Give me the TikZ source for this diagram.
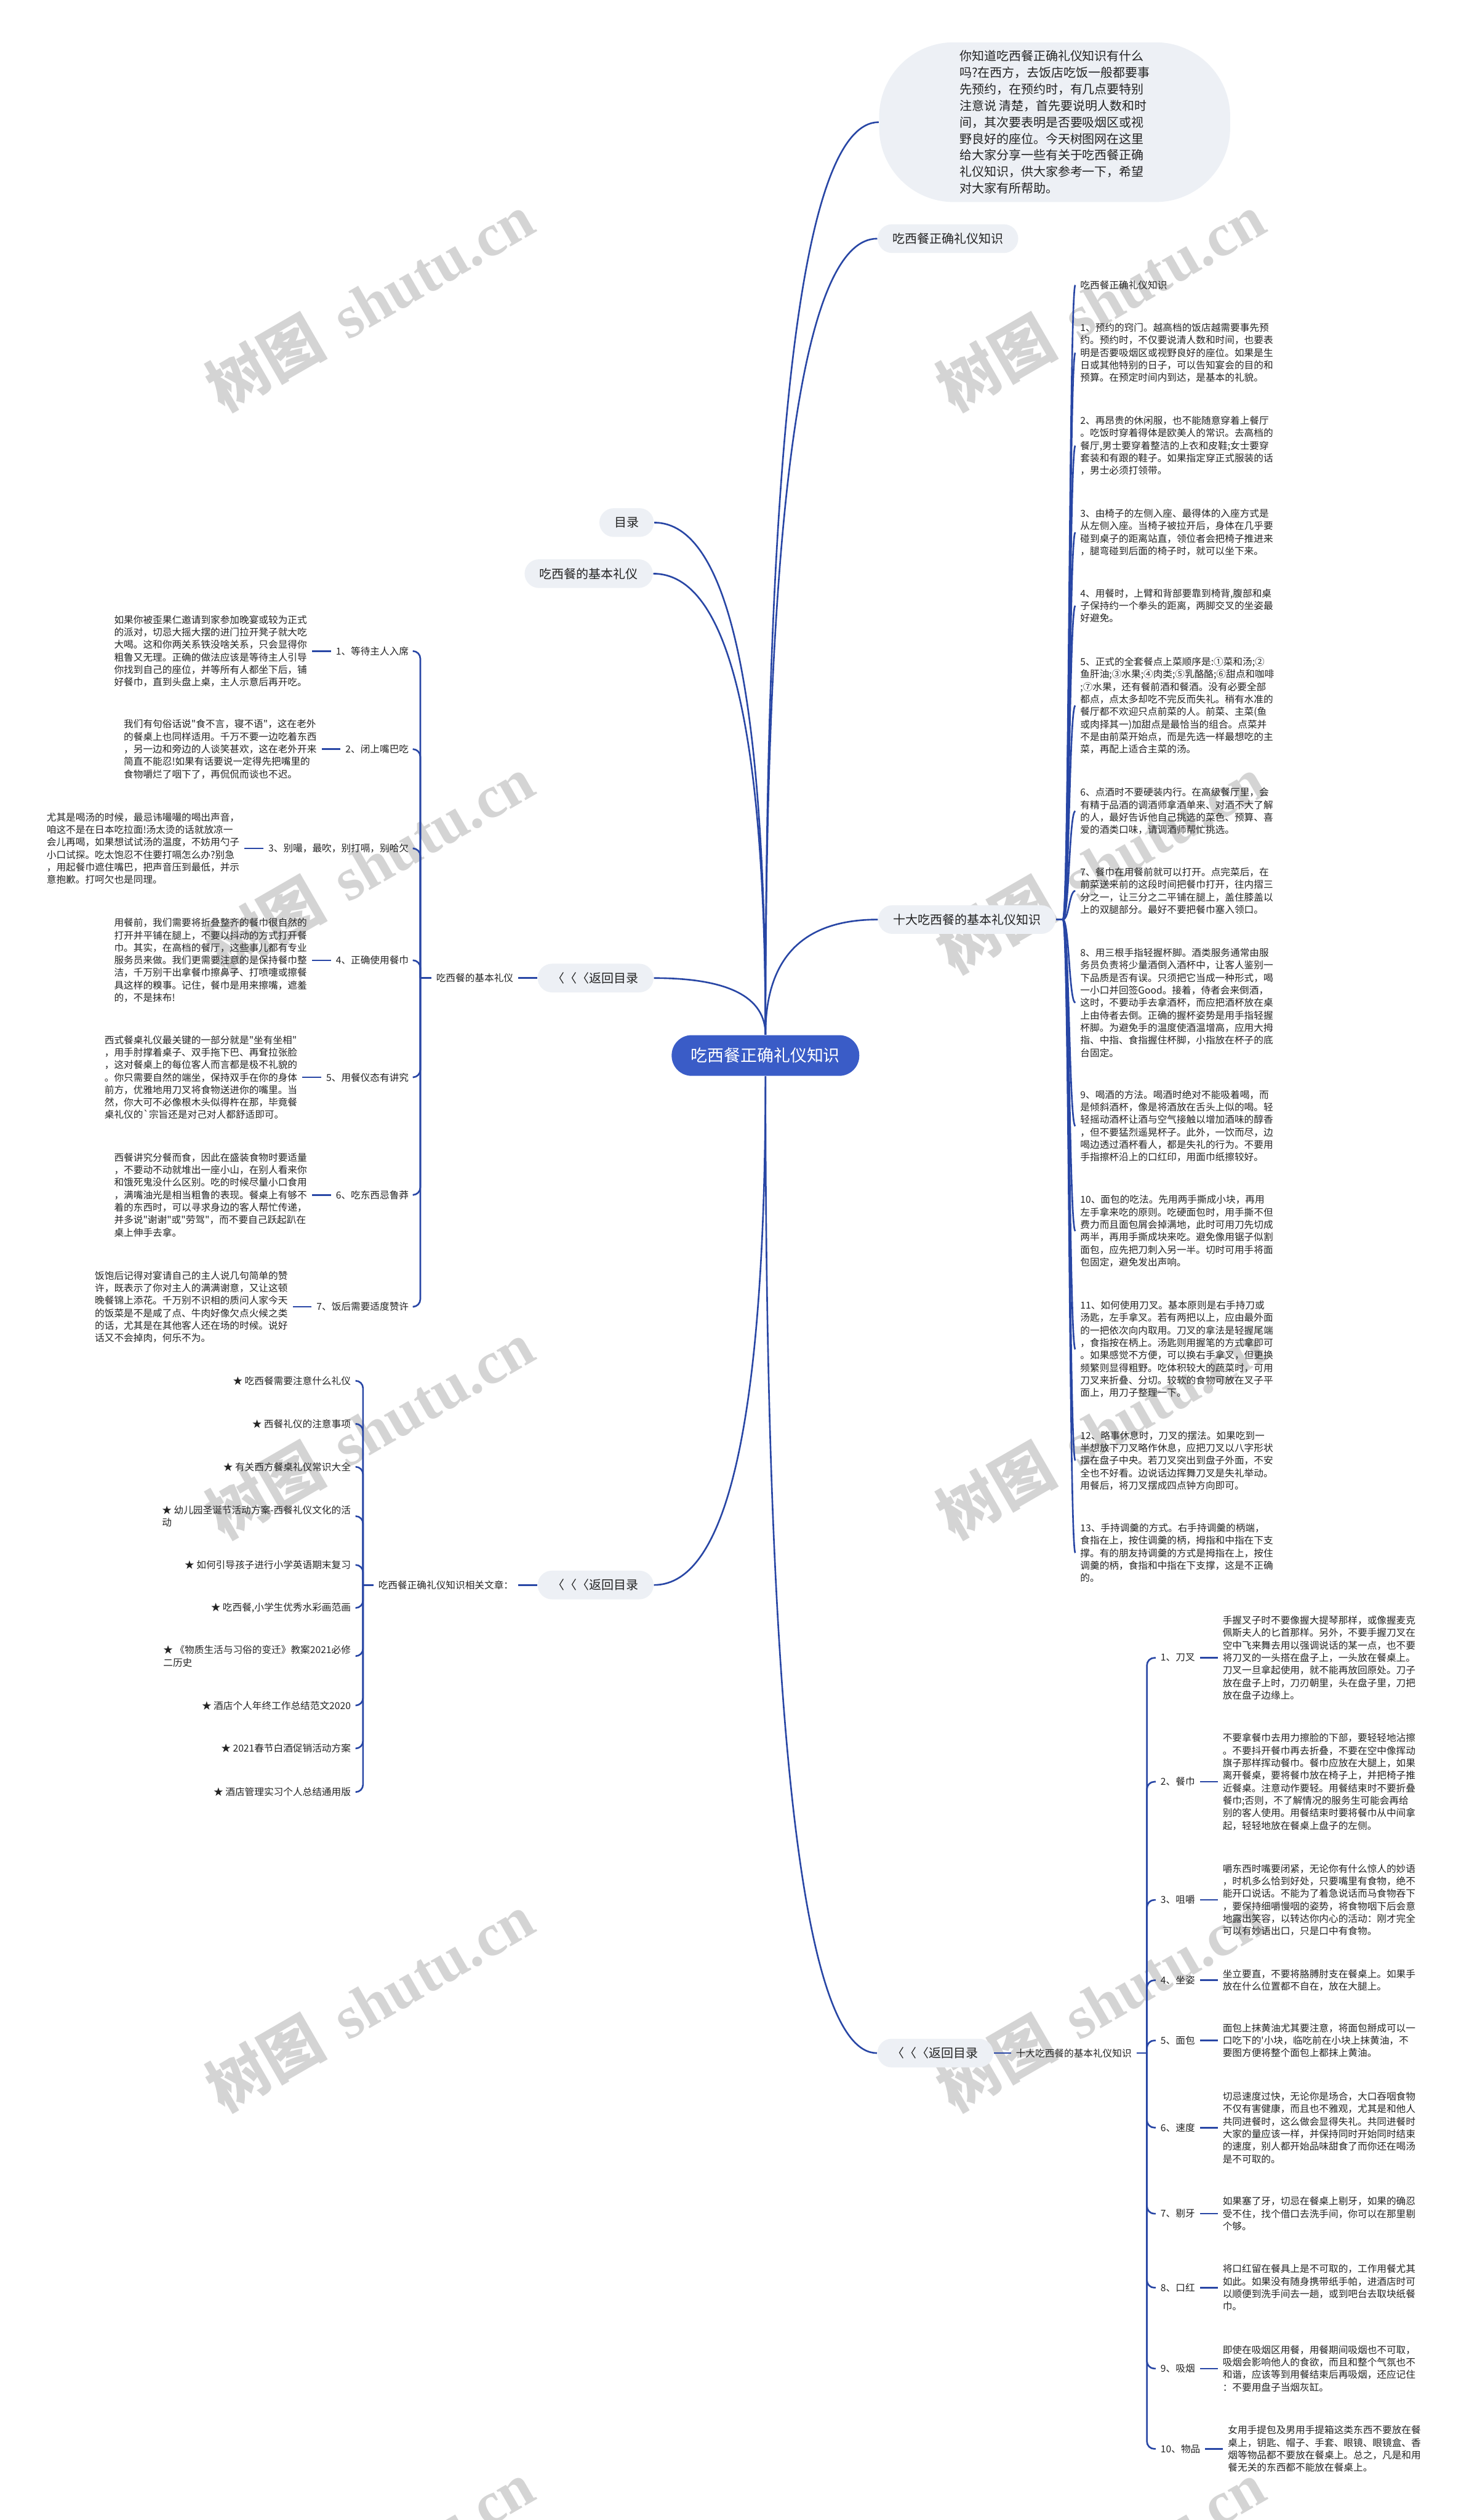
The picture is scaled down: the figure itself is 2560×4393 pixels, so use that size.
\documentclass[tikz,border=0pt]{standalone}
\usepackage{fontspec}
\usetikzlibrary{positioning,calc}
\newfontfamily\zh{Noto Sans CJK SC}
\newfontfamily\wmlatin{Liberation Serif}
\newcommand\ftRoot{\zh\fontsize{8.2pt}{10pt}\selectfont}
\newcommand\ftBig{\zh\fontsize{6.1pt}{8.2pt}\selectfont}
\newcommand\ftSmall{\zh\fontsize{4.78pt}{6.2pt}\selectfont}
\definecolor{linecol}{RGB}{40,70,165}
\definecolor{rootcol}{RGB}{58,92,199}
\definecolor{pillcol}{RGB}{237,240,245}
\definecolor{txtcol}{RGB}{35,35,35}
\definecolor{wmcol}{RGB}{212,212,212}
\begin{document}
\begin{tikzpicture}[x=0.1mm,y=-0.1mm,
  link/.style={draw=linecol,line width=0.8pt},
  quad/.style={link,to path={.. controls ($(\tikztostart)!.667!(\tikztostart |- \tikztotarget)$) and ($(\tikztotarget)!.667!(\tikztostart |- \tikztotarget)$) .. (\tikztotarget)}},
  fan/.style={link,to path={.. controls ($(\tikztostart)!.5!(\tikztostart -| \tikztotarget)$) and ($(\tikztotarget)!.5!(\tikztotarget -| \tikztostart)$) .. (\tikztotarget)}},
  brace/.style={link,rounded corners=1.3mm},
  root/.style={fill=rootcol,text=white,rounded corners=3.5mm,minimum width=32.7mm,minimum height=7.1mm,font=\ftRoot},
  pill/.style={fill=pillcol,text=txtcol,rounded corners=2.5mm,minimum height=5mm,inner xsep=2.6mm,inner ysep=0pt,font=\ftBig},
  txt/.style={text=txtcol,align=left,inner xsep=0.8mm,inner ysep=0.5mm,font=\ftSmall},
  wmark/.style={text=wmcol,rotate=30,font=\fontsize{30pt}{30pt}\selectfont\bfseries}
]
\fill[white] (0,0) rectangle (2560,4393);
\useasboundingbox (0,0) rectangle (2560,4393);

\foreach \wy in {526,1506,2492,3490,4480}
  \foreach \wx in {644,1918}
    \node[wmark] (wm-\wx-\wy) at (\wx,\wy) {{\zh 树图} {\wmlatin shutu.cn}};

\node[root] (root) at (1334,1840) {吃西餐正确礼仪知识};
\node[pill,rounded corners=13mm,inner xsep=14mm,inner ysep=1.4mm,align=left] (intro) at (1838,213) {你知道吃西餐正确礼仪知识有什么\\吗?在西方，去饭店吃饭一般都要事\\先预约，在预约时，有几点要特别\\注意说 清楚，首先要说明人数和时\\间，其次要表明是否要吸烟区或视\\野良好的座位。今天树图网在这里\\给大家分享一些有关于吃西餐正确\\礼仪知识，供大家参考一下，希望\\对大家有所帮助。};
\node[pill] (knowA) at (1652,416) {吃西餐正确礼仪知识};
\node[pill] (shida) at (1685,1603) {十大吃西餐的基本礼仪知识};
\node[pill] (mulu) at (1092,911) {目录};
\node[pill] (basic) at (1026,1000) {吃西餐的基本礼仪};
\node[pill] (backA) at (1038,1705) {〈〈〈返回目录};
\node[pill] (backB) at (1038,2763) {〈〈〈返回目录};
\node[pill] (backC) at (1630,3579) {〈〈〈返回目录};

\foreach \n in {intro,knowA,shida} \draw[quad] (root.north) to (\n.west);
\foreach \n in {mulu,basic,backA} \draw[quad] (root.north) to (\n.east);
\draw[quad] (root.south) to (backB.east);
\draw[quad] (root.south) to (backC.west);

\coordinate (hubT) at ([xshift=1.2mm]shida.east);
\draw[link] (shida.east) -- (hubT);
\node[txt,anchor=west] (k0) at (1874,497) {吃西餐正确礼仪知识};
\node[txt,anchor=west] (k1) at (1874,615) {1、预约的窍门。越高档的饭店越需要事先预\\约。预约时，不仅要说清人数和时间，也要表\\明是否要吸烟区或视野良好的座位。如果是生\\日或其他特别的日子，可以告知宴会的目的和\\预算。在预定时间内到达，是基本的礼貌。};
\node[txt,anchor=west] (k2) at (1874,777) {2、再昂贵的休闲服，也不能随意穿着上餐厅\\。吃饭时穿着得体是欧美人的常识。去高档的\\餐厅,男士要穿着整洁的上衣和皮鞋;女士要穿\\套装和有跟的鞋子。如果指定穿正式服装的话\\，男士必须打领带。};
\node[txt,anchor=west] (k3) at (1874,928) {3、由椅子的左侧入座、最得体的入座方式是\\从左侧入座。当椅子被拉开后，身体在几乎要\\碰到桌子的距离站直，领位者会把椅子推进来\\，腿弯碰到后面的椅子时，就可以坐下来。};
\node[txt,anchor=west] (k4) at (1874,1056) {4、用餐时，上臂和背部要靠到椅背,腹部和桌\\子保持约一个拳头的距离，两脚交叉的坐姿最\\好避免。};
\node[txt,anchor=west] (k5) at (1874,1230) {5、正式的全套餐点上菜顺序是:①菜和汤;②\\鱼肝油;③水果;④肉类;⑤乳酪酪;⑥甜点和咖啡\\;⑦水果，还有餐前酒和餐酒。没有必要全部\\都点，点太多却吃不完反而失礼。稍有水准的\\餐厅都不欢迎只点前菜的人。前菜、主菜(鱼\\或肉择其一)加甜点是最恰当的组合。点菜并\\不是由前菜开始点，而是先选一样最想吃的主\\菜，再配上适合主菜的汤。};
\node[txt,anchor=west] (k6) at (1874,1414) {6、点酒时不要硬装内行。在高级餐厅里，会\\有精于品酒的调酒师拿酒单来、对酒不大了解\\的人，最好告诉他自己挑选的菜色、预算、喜\\爱的酒类口味，请调酒师帮忙挑选。};
\node[txt,anchor=west] (k7) at (1874,1553) {7、餐巾在用餐前就可以打开。点完菜后，在\\前菜送来前的这段时间把餐巾打开，往内摺三\\分之一，让三分之二平铺在腿上，盖住膝盖以\\上的双腿部分。最好不要把餐巾塞入领口。};
\node[txt,anchor=west] (k8) at (1874,1748) {8、用三根手指轻握杯脚。酒类服务通常由服\\务员负责将少量酒倒入酒杯中，让客人鉴别一\\下品质是否有误。只须把它当成一种形式，喝\\一小口并回签Good。接着，侍者会来倒酒，\\这时，不要动手去拿酒杯，而应把酒杯放在桌\\上由侍者去倒。正确的握杯姿势是用手指轻握\\杯脚。为避免手的温度使酒温增高，应用大拇\\指、中指、食指握住杯脚，小指放在杯子的底\\台固定。};
\node[txt,anchor=west] (k9) at (1874,1963) {9、喝酒的方法。喝酒时绝对不能吸着喝，而\\是倾斜酒杯，像是将酒放在舌头上似的喝。轻\\轻摇动酒杯让酒与空气接触以增加酒味的醇香\\，但不要猛烈遥晃杯子。此外，一饮而尽，边\\喝边透过酒杯看人，都是失礼的行为。不要用\\手指擦杯沿上的口红印，用面巾纸擦较好。};
\node[txt,anchor=west] (k10) at (1874,2146) {10、面包的吃法。先用两手撕成小块，再用\\左手拿来吃的原则。吃硬面包时，用手撕不但\\费力而且面包屑会掉满地，此时可用刀先切成\\两半，再用手撕成块来吃。避免像用锯子似割\\面包，应先把刀刺入另一半。切时可用手将面\\包固定，避免发出声响。};
\node[txt,anchor=west] (k11) at (1874,2352) {11、如何使用刀叉。基本原则是右手持刀或\\汤匙，左手拿叉。若有两把以上，应由最外面\\的一把依次向内取用。刀叉的拿法是轻握尾端\\，食指按在柄上。汤匙则用握笔的方式拿即可\\。如果感觉不方便，可以换右手拿叉，但更换\\频繁则显得粗野。吃体积较大的蔬菜时，可用\\刀叉来折叠、分切。较软的食物可放在叉子平\\面上，用刀子整理一下。};
\node[txt,anchor=west] (k12) at (1874,2546) {12、略事休息时，刀叉的摆法。如果吃到一\\半想放下刀叉略作休息，应把刀叉以八字形状\\摆在盘子中央。若刀叉突出到盘子外面，不安\\全也不好看。边说话边挥舞刀叉是失礼举动。\\用餐后，将刀叉摆成四点钟方向即可。};
\node[txt,anchor=west] (k13) at (1874,2707) {13、手持调羹的方式。右手持调羹的柄端，\\食指在上，按住调羹的柄，拇指和中指在下支\\撑。有的朋友持调羹的方式是拇指在上，按住\\调羹的柄，食指和中指在下支撑，这是不正确\\的。};
\foreach \i in {0,...,13} \draw[fan] (hubT) to (k\i.west);

\node[txt,left=3.3mm of backA] (basicT) {吃西餐的基本礼仪};
\draw[link] (backA.west) -- (basicT.east);
\coordinate (hubL) at ([xshift=-1.9mm]basicT.west);
\draw[link] (basicT.west) -- (hubL);
\node[txt,anchor=east] (L1) at (721,1135) {1、等待主人入席};
\node[txt,anchor=east] (L2) at (721,1306) {2、闭上嘴巴吃};
\node[txt,anchor=east] (L3) at (721,1479) {3、别嘬，最吹，别打嗝，别哈欠};
\node[txt,anchor=east] (L4) at (721,1674) {4、正确使用餐巾};
\node[txt,anchor=east] (L5) at (721,1878) {5、用餐仪态有讲究};
\node[txt,anchor=east] (L6) at (721,2083) {6、吃东西忌鲁莽};
\node[txt,anchor=east] (L7) at (721,2278) {7、饭后需要适度赞许};
\node[txt,left=3.3mm of L1] (LT1) {如果你被歪果仁邀请到家参加晚宴或较为正式\\的派对，切忌大摇大摆的进门拉开凳子就大吃\\大喝。这和你两关系铁没啥关系，只会显得你\\粗鲁又无理。正确的做法应该是等待主人引导\\你找到自己的座位，并等所有人都坐下后，铺\\好餐巾，直到头盘上桌，主人示意后再开吃。};
\node[txt,left=3.3mm of L2] (LT2) {我们有句俗话说"食不言，寝不语"，这在老外\\的餐桌上也同样适用。千万不要一边吃着东西\\，另一边和旁边的人谈笑甚欢，这在老外开来\\简直不能忍!如果有话要说一定得先把嘴里的\\食物嚼烂了咽下了，再侃侃而谈也不迟。};
\node[txt,left=3.3mm of L3] (LT3) {尤其是喝汤的时候，最忌讳嘬嘬的喝出声音，\\咱这不是在日本吃拉面!汤太烫的话就放凉一\\会儿再喝，如果想试试汤的温度，不妨用勺子\\小口试探。吃太饱忍不住要打嗝怎么办?别急\\，用起餐巾遮住嘴巴，把声音压到最低，并示\\意抱歉。打呵欠也是同理。};
\node[txt,left=3.3mm of L4] (LT4) {用餐前，我们需要将折叠整齐的餐巾很自然的\\打开并平铺在腿上，不要以抖动的方式打开餐\\巾。其实，在高档的餐厅，这些事儿都有专业\\服务员来做。我们更需要注意的是保持餐巾整\\洁，千万别干出拿餐巾擦鼻子、打喷嚏或擦餐\\具这样的糗事。记住，餐巾是用来擦嘴，遮羞\\的，不是抹布!};
\node[txt,left=3.3mm of L5] (LT5) {西式餐桌礼仪最关键的一部分就是"坐有坐相"\\，用手肘撑着桌子、双手拖下巴、再耷拉张脸\\，这对餐桌上的每位客人而言都是极不礼貌的\\。你只需要自然的端坐，保持双手在你的身体\\前方，优雅地用刀叉将食物送进你的嘴里。当\\然，你大可不必像根木头似得杵在那，毕竟餐\\桌礼仪的`宗旨还是对己对人都舒适即可。};
\node[txt,left=3.3mm of L6] (LT6) {西餐讲究分餐而食，因此在盛装食物时要适量\\，不要动不动就堆出一座小山，在别人看来你\\和饿死鬼没什么区别。吃的时候尽量小口食用\\，满嘴油光是相当粗鲁的表现。餐桌上有够不\\着的东西时，可以寻求身边的客人帮忙传递，\\并多说"谢谢"或"劳驾"，而不要自己跃起趴在\\桌上伸手去拿。};
\node[txt,left=3.3mm of L7] (LT7) {饭饱后记得对宴请自己的主人说几句简单的赞\\许，既表示了你对主人的满满谢意，又让这顿\\晚餐锦上添花。千万别不识相的质问人家今天\\的饭菜是不是咸了点、牛肉好像欠点火候之类\\的话，尤其是在其他客人还在场的时候。说好\\话又不会掉肉，何乐不为。};
\foreach \i in {1,...,7} {
  \draw[brace] (hubL) |- (L\i.east);
  \draw[link] (L\i.west) -- (LT\i.east);
}

\node[txt,left=3.3mm of backB] (relT) {吃西餐正确礼仪知识相关文章：};
\draw[link] (backB.west) -- (relT.east);
\coordinate (hubB) at ([xshift=-1.8mm]relT.west);
\draw[link] (relT.west) -- (hubB);
\node[txt,anchor=east] (A1) at (620,2407) {★ 吃西餐需要注意什么礼仪};
\node[txt,anchor=east] (A2) at (620,2482) {★ 西餐礼仪的注意事项};
\node[txt,anchor=east] (A3) at (620,2557) {★ 有关西方餐桌礼仪常识大全};
\node[txt,anchor=east] (A4) at (620,2643) {★ 幼儿园圣诞节活动方案-西餐礼仪文化的活\\动};
\node[txt,anchor=east] (A5) at (620,2728) {★ 如何引导孩子进行小学英语期末复习};
\node[txt,anchor=east] (A6) at (620,2803) {★ 吃西餐,小学生优秀水彩画范画};
\node[txt,anchor=east] (A7) at (620,2887) {★ 《物质生活与习俗的变迁》教案2021必修\\二历史};
\node[txt,anchor=east] (A8) at (620,2973) {★ 酒店个人年终工作总结范文2020};
\node[txt,anchor=east] (A9) at (620,3048) {★ 2021春节白酒促销活动方案};
\node[txt,anchor=east] (A10) at (620,3124) {★ 酒店管理实习个人总结通用版};
\foreach \i in {1,...,10} \draw[brace] (hubB) |- (A\i.east);

\node[txt,right=3mm of backC] (shidaT) {十大吃西餐的基本礼仪知识};
\draw[link] (backC.east) -- (shidaT.west);
\coordinate (hubR) at ([xshift=1.8mm]shidaT.east);
\draw[link] (shidaT.east) -- (hubR);
\node[txt,anchor=west] (R1) at (2014,2890) {1、刀叉};
\node[txt,anchor=west] (R2) at (2014,3106) {2、餐巾};
\node[txt,anchor=west] (R3) at (2014,3312) {3、咀嚼};
\node[txt,anchor=west] (R4) at (2014,3452) {4、坐姿};
\node[txt,anchor=west] (R5) at (2014,3557) {5、面包};
\node[txt,anchor=west] (R6) at (2014,3709) {6、速度};
\node[txt,anchor=west] (R7) at (2014,3859) {7、剔牙};
\node[txt,anchor=west] (R8) at (2014,3988) {8、口红};
\node[txt,anchor=west] (R9) at (2014,4129) {9、吸烟};
\node[txt,anchor=west] (R10) at (2014,4269) {10、物品};
\node[txt,right=3.1mm of R1] (RT1) {手握叉子时不要像握大提琴那样，或像握麦克\\佩斯夫人的匕首那样。另外，不要手握刀叉在\\空中飞来舞去用以强调说话的某一点，也不要\\将刀叉的一头搭在盘子上，一头放在餐桌上。\\刀叉一旦拿起使用，就不能再放回原处。刀子\\放在盘子上时，刀刃朝里，头在盘子里，刀把\\放在盘子边缘上。};
\node[txt,right=3.1mm of R2] (RT2) {不要拿餐巾去用力擦脸的下部，要轻轻地沾擦\\。不要抖开餐巾再去折叠，不要在空中像挥动\\旗子那样挥动餐巾。餐巾应放在大腿上，如果\\离开餐桌，要将餐巾放在椅子上，并把椅子推\\近餐桌。注意动作要轻。用餐结束时不要折叠\\餐巾;否则，不了解情况的服务生可能会再给\\别的客人使用。用餐结束时要将餐巾从中间拿\\起，轻轻地放在餐桌上盘子的左侧。};
\node[txt,right=3.1mm of R3] (RT3) {嚼东西时嘴要闭紧，无论你有什么惊人的妙语\\，时机多么恰到好处，只要嘴里有食物，绝不\\能开口说话。不能为了着急说话而马食物吞下\\，要保持细嚼慢咽的姿势，将食物咽下后会意\\地露出笑容，以转达你内心的活动：刚才完全\\可以有妙语出口，只是口中有食物。};
\node[txt,right=3.1mm of R4] (RT4) {坐立要直，不要将胳膊肘支在餐桌上。如果手\\放在什么位置都不自在，放在大腿上。};
\node[txt,right=3.1mm of R5] (RT5) {面包上抹黄油尤其要注意，将面包掰成可以一\\口吃下的'小块，临吃前在小块上抹黄油，不\\要图方便将整个面包上都抹上黄油。};
\node[txt,right=3.1mm of R6] (RT6) {切忌速度过快，无论你是场合，大口吞咽食物\\不仅有害健康，而且也不雅观，尤其是和他人\\共同进餐时，这么做会显得失礼。共同进餐时\\大家的量应该一样，并保持同时开始同时结束\\的速度，别人都开始品味甜食了而你还在喝汤\\是不可取的。};
\node[txt,right=3.1mm of R7] (RT7) {如果塞了牙，切忌在餐桌上剔牙，如果的确忍\\受不住，找个借口去洗手间，你可以在那里剔\\个够。};
\node[txt,right=3.1mm of R8] (RT8) {将口红留在餐具上是不可取的，工作用餐尤其\\如此。如果没有随身携带纸手帕，进酒店时可\\以顺便到洗手间去一趟，或到吧台去取块纸餐\\巾。};
\node[txt,right=3.1mm of R9] (RT9) {即使在吸烟区用餐，用餐期间吸烟也不可取，\\吸烟会影响他人的食欲，而且和整个气氛也不\\和谐，应该等到用餐结束后再吸烟，还应记住\\：不要用盘子当烟灰缸。};
\node[txt,right=3.1mm of R10] (RT10) {女用手提包及男用手提箱这类东西不要放在餐\\桌上，钥匙、帽子、手套、眼镜、眼镜盒、香\\烟等物品都不要放在餐桌上。总之，凡是和用\\餐无关的东西都不能放在餐桌上。};
\foreach \i in {1,...,10} {
  \draw[brace] (hubR) |- (R\i.west);
  \draw[link] (R\i.east) -- (RT\i.west);
}
\end{tikzpicture}
\end{document}
